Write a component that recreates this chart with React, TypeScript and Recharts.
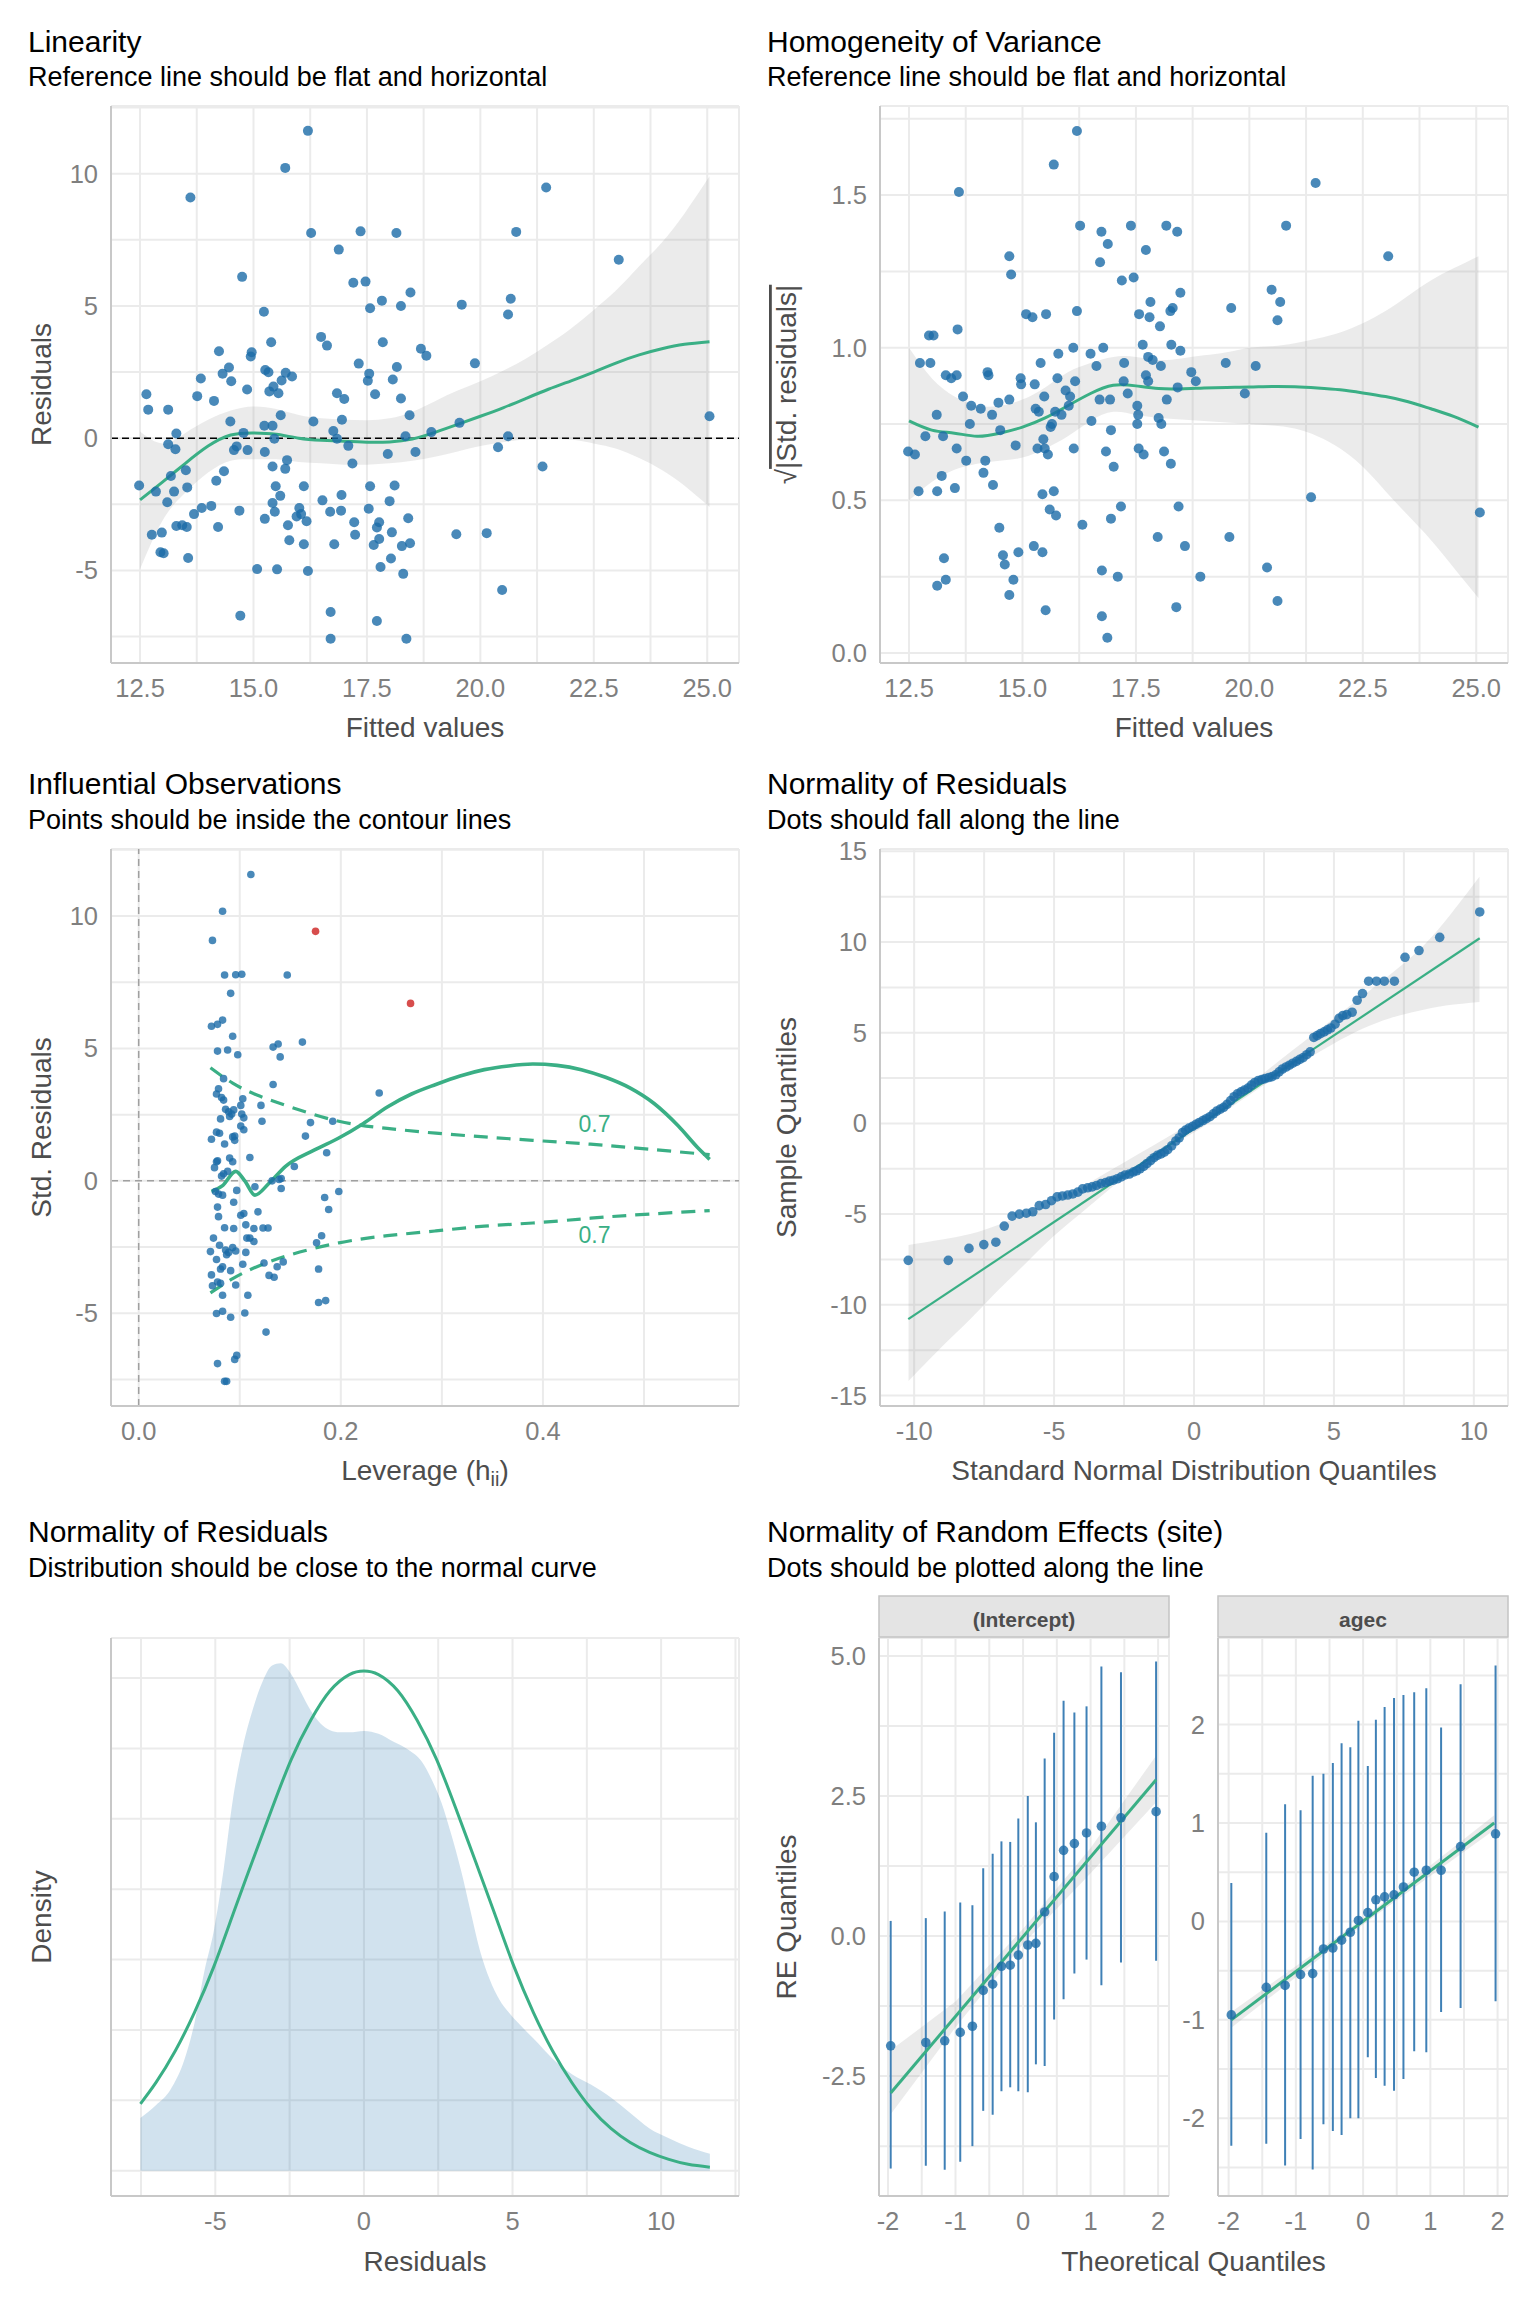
import React from 'react';
import {
  ComposedChart, Scatter, Line, Area, XAxis, YAxis, CartesianGrid, ReferenceLine, ErrorBar
} from 'recharts';

const BLUE = '#1b6ca8';
const GREEN = '#3aaf85';
const RED = '#cd201f';
const GRID = '#ebebeb';
const AXIS = '#c8c8c8';
const TICK = '#7f7f7f';
const AXIS_TITLE = '#4d4d4d';
const FONT = '"Liberation Sans", Arial, sans-serif';

// ---- Linearity: fitted values vs residuals
const linearityPoints = [
  [12.48, -1.79], [12.64, 1.66], [12.68, 1.08], [12.76, -3.65], [12.85, -2.02], [12.95, -4.31], [13.02, -4.35],
  [12.98, -3.57], [13.12, 1.08], [13.12, -0.23], [13.18, -1.43], [13.10, -2.42], [13.25, -2.02], [13.28, -0.42],
  [13.30, 0.18], [13.30, -3.32], [13.43, -3.29], [13.51, -1.21], [13.53, -3.36], [13.54, -1.86], [13.56, -4.53],
  [13.61, 9.10], [13.69, -2.87], [13.76, 1.59], [13.84, 2.26], [13.86, -2.64], [14.07, -2.56], [14.13, 1.41],
  [14.18, -1.61], [14.22, -3.36], [14.24, 3.29], [14.32, 2.44], [14.35, -1.25], [14.46, 2.67], [14.49, 0.63],
  [14.51, 2.15], [14.57, -0.45], [14.63, -0.31], [14.69, -2.74], [14.71, -6.71], [14.75, 6.10], [14.78, 0.20],
  [14.87, -0.45], [14.86, 1.84], [14.94, 3.09], [14.96, 3.25], [15.08, -4.95], [15.23, 4.78], [15.24, 0.47],
  [15.25, -0.52], [15.25, -3.05], [15.26, 2.58], [15.33, 2.49], [15.35, 1.77], [15.39, 3.63], [15.42, 0.47],
  [15.42, -2.45], [15.42, -1.07], [15.44, 1.95], [15.46, -0.02], [15.47, -2.78], [15.49, -1.82], [15.52, -4.96],
  [15.55, 1.70], [15.59, -2.18], [15.60, 0.87], [15.62, 2.18], [15.71, 2.47], [15.70, 10.22], [15.70, -1.16],
  [15.74, -0.83], [15.76, -3.29], [15.79, -3.86], [15.85, 2.33], [15.95, -2.96], [16.01, -2.64], [16.05, -2.87],
  [16.11, -1.82], [16.11, -4.01], [16.17, -3.14], [16.20, 11.62], [16.20, -5.02], [16.27, 7.76], [16.32, 0.63],
  [16.49, 3.83], [16.52, -2.35], [16.62, 3.50], [16.70, -6.57], [16.70, -7.58], [16.69, -2.78], [16.76, 0.27],
  [16.78, -4.01], [16.84, 1.70], [16.84, -0.02], [16.88, 7.13], [16.93, -2.74], [16.94, -2.15], [16.95, 0.70],
  [17.00, 1.48], [17.09, -0.29], [17.18, -0.96], [17.20, 5.88], [17.22, -3.18], [17.24, -3.65], [17.32, 2.82],
  [17.36, 7.82], [17.47, 5.92], [17.52, 2.17], [17.54, -2.67], [17.55, 2.44], [17.57, 4.91], [17.57, -1.82],
  [17.65, -4.04], [17.68, 1.66], [17.72, -6.91], [17.72, -3.38], [17.77, -3.18], [17.77, -3.81], [17.80, -4.87],
  [17.83, 5.20], [17.85, 3.63], [17.96, -0.60], [18.00, -2.38], [18.03, -4.55], [18.05, -3.56], [18.07, 2.22],
  [18.11, -1.79], [18.15, 7.76], [18.16, 2.69], [18.25, 5.00], [18.25, 1.50], [18.27, -4.08], [18.30, -5.13],
  [18.35, 0.07], [18.37, -7.58], [18.41, -3.03], [18.44, 0.87], [18.45, -3.97], [18.46, 5.51], [18.57, -0.52],
  [18.69, 3.38], [18.81, 3.12], [18.92, 0.23], [19.47, -3.63], [19.54, 0.58], [19.59, 5.05], [19.88, 2.83],
  [20.14, -3.59], [20.39, -0.34], [20.48, -5.74], [20.61, 4.68], [20.61, 0.07], [20.67, 5.27], [20.79, 7.80],
  [21.37, -1.07], [21.45, 9.48], [23.05, 6.75], [25.05, 0.83],
];
const linSmoothX = [12.5, 13, 13.5, 14, 14.5, 15, 15.5, 16, 16.5, 17, 17.5, 18, 18.5, 19, 19.5, 20, 20.5, 21, 21.5, 22, 22.5, 23, 23.5, 24, 24.5, 25.05];
const linSmoothFit = [-2.33, -1.65, -0.95, -0.3, 0.12, 0.2, 0.15, 0.0, -0.08, -0.12, -0.15, -0.14, -0.03, 0.22, 0.52, 0.83, 1.15, 1.5, 1.85, 2.17, 2.5, 2.85, 3.15, 3.38, 3.55, 3.65];
const linSmoothLo = [-4.95, -3.1, -2.05, -1.3, -0.85, -0.8, -0.8, -0.9, -0.95, -1.0, -1.0, -0.95, -0.85, -0.7, -0.5, -0.3, -0.15, -0.05, -0.02, -0.05, -0.2, -0.4, -0.75, -1.2, -1.8, -2.6];
const linSmoothHi = [0.25, -0.2, 0.2, 0.7, 1.05, 1.2, 1.1, 0.88, 0.75, 0.7, 0.68, 0.75, 1.0, 1.4, 1.8, 2.15, 2.55, 3.0, 3.55, 4.15, 4.85, 5.6, 6.5, 7.4, 8.5, 9.9];

// ---- Homogeneity of variance: fitted values vs sqrt(|std. residuals|)
const homogeneityPoints = [
  [12.48, 0.66], [12.63, 0.65], [12.71, 0.53], [12.74, 0.95], [12.86, 0.71], [12.94, 1.04], [12.97, 0.95],
  [13.04, 1.04], [13.11, 0.78], [13.12, 0.53], [13.12, 0.22], [13.22, 0.58], [13.25, 0.71], [13.27, 0.31],
  [13.31, 0.24], [13.31, 0.91], [13.43, 0.90], [13.51, 0.54], [13.55, 0.67], [13.55, 0.91], [13.57, 1.06],
  [13.60, 1.51], [13.69, 0.84], [13.76, 0.63], [13.84, 0.75], [13.87, 0.81], [14.08, 0.80], [14.14, 0.59],
  [14.18, 0.63], [14.23, 0.92], [14.25, 0.91], [14.33, 0.78], [14.35, 0.55], [14.47, 0.82], [14.49, 0.41],
  [14.51, 0.73], [14.57, 0.32], [14.61, 0.29], [14.71, 0.83], [14.71, 1.30], [14.71, 0.19], [14.75, 1.24],
  [14.80, 0.24], [14.85, 0.68], [14.91, 0.33], [14.96, 0.90], [14.97, 0.88], [15.08, 1.11], [15.22, 1.10],
  [15.25, 0.35], [15.27, 0.88], [15.29, 0.80], [15.33, 0.67], [15.36, 0.79], [15.40, 0.95], [15.44, 0.52],
  [15.44, 0.33], [15.46, 0.70], [15.48, 0.84], [15.49, 0.67], [15.51, 0.14], [15.52, 1.11], [15.56, 0.65],
  [15.60, 0.47], [15.62, 0.74], [15.65, 0.75], [15.69, 0.53], [15.69, 1.60], [15.72, 0.79], [15.74, 0.45],
  [15.77, 0.90], [15.79, 0.98], [15.86, 0.78], [15.95, 0.86], [16.02, 0.81], [16.05, 0.84], [16.12, 1.00],
  [16.13, 0.67], [16.16, 0.89], [16.20, 1.12], [16.20, 1.71], [16.27, 1.40], [16.32, 0.42], [16.50, 0.98],
  [16.52, 0.76], [16.63, 0.94], [16.70, 0.83], [16.71, 1.28], [16.74, 1.38], [16.75, 0.27], [16.75, 0.12],
  [16.78, 1.00], [16.84, 0.66], [16.88, 1.34], [16.87, 0.05], [16.93, 0.83], [16.95, 0.73], [16.95, 0.44],
  [17.01, 0.61], [17.10, 0.25], [17.17, 0.48], [17.19, 1.22], [17.23, 0.89], [17.24, 0.95], [17.32, 0.85],
  [17.39, 1.40], [17.45, 1.23], [17.53, 0.75], [17.53, 0.81], [17.55, 0.78], [17.56, 0.67], [17.57, 1.11],
  [17.65, 1.01], [17.67, 0.65], [17.72, 1.32], [17.72, 0.91], [17.77, 0.89], [17.77, 0.97], [17.80, 1.10],
  [17.82, 1.15], [17.87, 0.96], [17.98, 0.38], [18.00, 0.77], [18.03, 1.07], [18.05, 0.94], [18.06, 0.75],
  [18.12, 0.66], [18.17, 1.40], [18.18, 0.83], [18.26, 1.12], [18.27, 0.62], [18.28, 1.01], [18.31, 1.13],
  [18.39, 0.15], [18.41, 1.38], [18.42, 0.87], [18.44, 0.48], [18.48, 0.99], [18.48, 1.18], [18.58, 0.35],
  [18.72, 0.92], [18.82, 0.89], [18.92, 0.25], [19.48, 0.95], [19.56, 0.38], [19.60, 1.13], [19.90, 0.85],
  [20.14, 0.94], [20.39, 0.28], [20.49, 1.19], [20.62, 1.09], [20.62, 0.17], [20.68, 1.15], [20.81, 1.40],
  [21.36, 0.51], [21.46, 1.54], [23.06, 1.30], [25.08, 0.46],
];
const homSmoothX = [12.5, 13, 13.5, 14, 14.5, 15, 15.5, 16, 16.5, 17, 17.5, 18, 18.5, 19, 19.5, 20, 20.5, 21, 21.5, 22, 22.5, 23, 23.5, 24, 24.5, 25.05];
const homSmoothFit = [0.76, 0.73, 0.72, 0.71, 0.72, 0.74, 0.77, 0.81, 0.85, 0.877, 0.875, 0.866, 0.865, 0.868, 0.87, 0.871, 0.873, 0.872, 0.868, 0.862, 0.852, 0.84, 0.823, 0.80, 0.775, 0.74];
const homSmoothLo = [0.50, 0.56, 0.60, 0.62, 0.63, 0.64, 0.67, 0.71, 0.76, 0.79, 0.78, 0.77, 0.765, 0.76, 0.755, 0.75, 0.745, 0.735, 0.71, 0.67, 0.61, 0.53, 0.45, 0.37, 0.28, 0.18];
const homSmoothHi = [1.00, 0.90, 0.84, 0.81, 0.81, 0.83, 0.87, 0.92, 0.95, 0.97, 0.97, 0.96, 0.965, 0.975, 0.985, 1.0, 1.005, 1.015, 1.03, 1.05, 1.08, 1.12, 1.17, 1.22, 1.26, 1.30];

// ---- Influential observations: leverage vs std. residuals
const influencePoints = [
  [0.111, 11.57], [0.083, 10.18], [0.073, 9.08], [0.085, 7.77], [0.096, 7.78], [0.102, 7.80], [0.147, 7.77],
  [0.091, 7.08], [0.072, 5.84], [0.078, 5.91], [0.083, 6.07], [0.093, 5.46], [0.162, 5.24], [0.133, 5.05],
  [0.138, 5.17], [0.078, 4.90], [0.088, 4.94], [0.098, 4.76], [0.140, 4.68], [0.084, 3.86], [0.133, 3.64],
  [0.238, 3.32], [0.079, 3.48], [0.077, 3.28], [0.082, 3.15], [0.084, 3.05], [0.103, 3.10], [0.121, 2.85],
  [0.101, 2.85], [0.086, 2.70], [0.089, 2.61], [0.092, 2.52], [0.090, 2.43], [0.094, 2.68], [0.102, 2.52],
  [0.122, 2.25], [0.170, 2.20], [0.192, 2.25], [0.104, 2.38], [0.081, 2.34], [0.080, 1.80], [0.077, 1.84],
  [0.165, 1.69], [0.072, 1.57], [0.093, 1.66], [0.095, 1.53], [0.095, 1.69], [0.104, 1.93], [0.101, 2.07],
  [0.085, 1.39], [0.110, 0.88], [0.186, 1.06], [0.090, 0.86], [0.093, 0.72], [0.078, 0.76], [0.075, 0.50],
  [0.077, 0.72], [0.154, 0.54], [0.084, 0.27], [0.082, 0.18], [0.088, 0.36], [0.141, 0.09], [0.132, 0.00],
  [0.139, 0.05], [0.115, -0.22], [0.076, -0.40], [0.079, -0.50], [0.083, -0.54], [0.097, -0.36], [0.141, -0.29],
  [0.184, -0.63], [0.198, -0.40], [0.188, -1.08], [0.078, -0.99], [0.079, -1.35], [0.094, -0.81], [0.104, -1.23],
  [0.101, -1.30], [0.118, -1.17], [0.106, -1.66], [0.085, -1.77], [0.094, -1.80], [0.114, -1.80], [0.128, -1.78],
  [0.123, -1.78], [0.107, -2.16], [0.110, -2.16], [0.114, -2.29], [0.181, -2.07], [0.074, -2.16], [0.176, -2.34],
  [0.080, -2.43], [0.086, -2.61], [0.087, -2.79], [0.093, -2.52], [0.096, -2.65], [0.089, -2.70], [0.071, -2.67],
  [0.106, -2.70], [0.124, -3.10], [0.137, -3.24], [0.143, -3.06], [0.103, -3.15], [0.081, -3.33], [0.083, -3.24],
  [0.077, -2.97], [0.178, -3.33], [0.072, -3.55], [0.091, -3.39], [0.129, -3.57], [0.134, -3.64], [0.096, -3.93],
  [0.078, -3.82], [0.081, -3.87], [0.073, -3.96], [0.083, -4.32], [0.108, -4.32], [0.178, -4.59], [0.185, -4.52],
  [0.077, -5.01], [0.083, -4.92], [0.091, -5.15], [0.105, -4.99], [0.126, -5.71], [0.078, -6.90], [0.097, -6.59],
  [0.095, -6.74], [0.085, -7.57], [0.087, -7.57],
];
const influentialOutliers = [[0.175, 9.42], [0.269, 6.70]];
const infSmoothX = [0.072, 0.083, 0.096, 0.105, 0.115, 0.129, 0.145, 0.174, 0.198, 0.222, 0.246, 0.270, 0.294, 0.318, 0.342, 0.366, 0.390, 0.414, 0.438, 0.462, 0.486, 0.510, 0.534, 0.553, 0.565];
const infSmoothY = [-0.40, -0.18, 0.36, 0.0, -0.54, -0.09, 0.54, 1.17, 1.62, 2.16, 2.79, 3.28, 3.64, 3.96, 4.20, 4.34, 4.41, 4.36, 4.20, 3.91, 3.51, 2.92, 2.07, 1.26, 0.81];
const cookX = [0.071, 0.093, 0.117, 0.150, 0.198, 0.246, 0.294, 0.342, 0.390, 0.438, 0.486, 0.565];
const cookUpper = [4.27, 3.69, 3.24, 2.79, 2.25, 1.98, 1.80, 1.66, 1.53, 1.41, 1.26, 0.99];
const cookLower = [-4.23, -3.69, -3.24, -2.79, -2.34, -2.07, -1.89, -1.71, -1.59, -1.44, -1.30, -1.12];
const cookLabels = [{ x: 0.451, y: 2.16, label: '0.7' }, { x: 0.451, y: -2.04, label: '0.7' }];

// ---- Normality of residuals: QQ plot
const qqPoints = [
  [-10.21, -7.55], [-8.78, -7.55], [-8.04, -6.89], [-7.51, -6.68], [-7.08, -6.55], [-6.78, -5.66], [-6.50, -5.11],
  [-6.24, -5.0], [-5.99, -4.95], [-5.76, -4.87], [-5.53, -4.53], [-5.30, -4.47], [-5.09, -4.26], [-4.89, -4.05],
  [-4.70, -4.0], [-4.51, -3.95], [-4.33, -3.89], [-4.15, -3.79], [-3.98, -3.61], [-3.80, -3.55], [-3.64, -3.50],
  [-3.48, -3.42], [-3.32, -3.32], [-3.16, -3.26], [-3.02, -3.18], [-2.88, -3.13], [-2.74, -3.05], [-2.60, -2.95],
  [-2.46, -2.84], [-2.31, -2.79], [-2.17, -2.68], [-2.05, -2.61], [-1.93, -2.50], [-1.80, -2.37], [-1.68, -2.21],
  [-1.55, -2.05], [-1.43, -1.89], [-1.31, -1.76], [-1.18, -1.68], [-1.06, -1.58], [-0.94, -1.45], [-0.80, -1.24],
  [-0.65, -0.97], [-0.53, -0.79], [-0.41, -0.50], [-0.30, -0.37], [-0.18, -0.26], [-0.05, -0.16], [0.07, -0.05],
  [0.19, 0.05], [0.32, 0.16], [0.44, 0.26], [0.57, 0.37], [0.69, 0.53], [0.81, 0.68], [0.94, 0.79], [1.06, 0.89],
  [1.18, 1.05], [1.31, 1.26], [1.43, 1.47], [1.55, 1.63], [1.68, 1.74], [1.80, 1.84], [1.93, 1.95], [2.05, 2.11],
  [2.17, 2.26], [2.30, 2.37], [2.42, 2.42], [2.54, 2.47], [2.67, 2.53], [2.79, 2.58], [2.92, 2.68], [3.04, 2.84],
  [3.16, 3.0], [3.29, 3.11], [3.41, 3.21], [3.53, 3.32], [3.66, 3.42], [3.78, 3.53], [3.90, 3.63], [4.03, 3.79],
  [4.15, 3.95], [4.28, 4.74], [4.40, 4.84], [4.52, 4.95], [4.65, 5.05], [4.77, 5.16], [4.89, 5.26], [5.04, 5.47],
  [5.18, 5.79], [5.32, 5.95], [5.46, 6.0], [5.65, 6.13], [5.83, 6.79], [6.02, 7.16], [6.24, 7.84], [6.52, 7.84],
  [6.80, 7.84], [7.16, 7.84], [7.54, 9.16], [8.04, 9.53], [8.78, 10.26], [10.21, 11.66],
];
const qqLineX = [-10.21, 10.21];
const qqLineY = [-10.79, 10.21];
const qqBandX = [-10.2, -9, -8, -7, -6, -5, -4, -3, -2, -1, 0, 1, 2, 3, 4, 5, 6, 7, 8, 9, 10.2];
const qqBandLo = [-14.2, -12.3, -10.8, -9.2, -7.7, -6.2, -4.9, -3.6, -2.4, -1.35, -0.5, 0.55, 1.6, 2.6, 3.5, 4.4, 5.2, 5.8, 6.2, 6.5, 6.7];
const qqBandHi = [-6.7, -6.4, -6.1, -5.6, -5.0, -4.3, -3.5, -2.6, -1.7, -0.8, 0.1, 1.1, 2.2, 3.4, 4.6, 5.8, 7.0, 8.2, 9.5, 11.2, 13.6];

// ---- Normality of residuals: density (relative units, no axis labels)
const densityX = [-7.52, -7.0, -6.51, -6.03, -5.70, -5.37, -5.05, -4.72, -4.40, -4.07, -3.75, -3.42, -3.09, -2.80, -2.44, -2.12, -1.79, -1.47, -1.14, -0.81, -0.49, 0, 0.49, 0.98, 1.47, 1.95, 2.28, 2.61, 2.93, 3.26, 3.58, 3.91, 4.23, 4.56, 4.89, 5.37, 5.86, 6.35, 7.0, 7.65, 8.31, 8.96, 9.61, 10.26, 10.91, 11.64];
const densityY = [0.75, 0.93, 1.15, 1.59, 2.10, 2.83, 3.41, 4.28, 5.30, 6.03, 6.54, 6.94, 7.18, 7.21, 7.05, 6.80, 6.54, 6.36, 6.26, 6.23, 6.23, 6.25, 6.21, 6.10, 5.99, 5.81, 5.56, 5.23, 4.79, 4.28, 3.70, 3.12, 2.72, 2.43, 2.24, 2.02, 1.81, 1.59, 1.37, 1.22, 1.04, 0.82, 0.60, 0.46, 0.34, 0.24];
const normalX = [-7.52, -7.0, -6.35, -5.70, -5.05, -4.40, -3.75, -3.09, -2.44, -1.79, -1.14, -0.49, 0, 0.49, 1.14, 1.79, 2.44, 3.09, 3.75, 4.40, 5.05, 5.70, 6.35, 7.0, 7.65, 8.31, 8.96, 9.61, 10.26, 10.91, 11.64];
const normalY = [0.95, 1.25, 1.70, 2.25, 2.90, 3.65, 4.40, 5.15, 5.85, 6.40, 6.82, 7.05, 7.10, 7.05, 6.82, 6.40, 5.85, 5.15, 4.40, 3.65, 2.90, 2.25, 1.70, 1.25, 0.88, 0.60, 0.40, 0.26, 0.16, 0.09, 0.05];

// ---- Random effects (site)
const reTheo = [-1.96, -1.44, -1.16, -0.93, -0.75, -0.59, -0.45, -0.32, -0.19, -0.07, 0.07, 0.19, 0.32, 0.46, 0.60, 0.76, 0.94, 1.16, 1.45, 1.97];
const reInterceptY = [-1.96, -1.90, -1.87, -1.72, -1.61, -0.97, -0.86, -0.54, -0.52, -0.34, -0.16, -0.13, 0.43, 1.06, 1.53, 1.65, 1.84, 1.96, 2.11, 2.22];
const reInterceptLo = [-4.15, -4.10, -4.17, -4.03, -3.75, -3.12, -3.19, -2.77, -2.70, -2.77, -2.79, -2.29, -2.32, -1.49, -1.13, -0.67, -0.42, -0.88, -0.47, -0.44];
const reInterceptHi = [0.27, 0.32, 0.44, 0.60, 0.55, 1.21, 1.47, 1.69, 1.68, 2.10, 2.50, 2.03, 3.17, 3.63, 4.20, 3.99, 4.10, 4.81, 4.71, 4.90];
const reAgecY = [-0.95, -0.67, -0.65, -0.54, -0.53, -0.28, -0.27, -0.19, -0.11, 0.01, 0.09, 0.22, 0.25, 0.27, 0.35, 0.50, 0.52, 0.52, 0.76, 0.89];
const reAgecLo = [-2.28, -2.26, -2.48, -2.21, -2.52, -2.06, -2.13, -2.17, -2.00, -2.00, -1.38, -1.59, -1.67, -1.72, -1.60, -1.32, -1.33, -0.92, -0.88, -0.81];
const reAgecHi = [0.39, 0.90, 1.19, 1.13, 1.48, 1.50, 1.61, 1.81, 1.77, 2.04, 1.58, 2.05, 2.18, 2.27, 2.30, 2.33, 2.37, 1.97, 2.41, 2.60];
const reInterceptLineX = [-1.96, 1.97];
const reInterceptLineY = [-2.80, 2.79];
const reInterceptBandX = [-1.96, -1, 0, 1, 1.97];
const reInterceptBandLo = [-3.18, -1.63, -0.14, 1.12, 2.39];
const reInterceptBandHi = [-2.04, -1.17, 0.13, 1.57, 3.22];
const reAgecLineX = [-1.96, 1.95];
const reAgecLineY = [-1.0, 1.0];
const reAgecBandX = [-1.96, 0, 1.95];
const reAgecBandLo = [-1.08, -0.03, 0.93];
const reAgecBandHi = [-0.92, 0.03, 1.08];

// tick positions (grid lines); labels only on the major ones
const fitTicks = [12.5, 13.75, 15, 16.25, 17.5, 18.75, 20, 21.25, 22.5, 23.75, 25];
const residTicks = [-7.5, -5, -2.5, 0, 2.5, 5, 7.5, 10, 12.5];
const sqrtTicks = [0, 0.25, 0.5, 0.75, 1, 1.25, 1.5, 1.75];
const levTicks = [0, 0.1, 0.2, 0.3, 0.4, 0.5];
const qqTicks = [-10, -7.5, -5, -2.5, 0, 2.5, 5, 7.5, 10];
const qqYTicks = [-15, -12.5, -10, -7.5, -5, -2.5, 0, 2.5, 5, 7.5, 10, 12.5, 15];
const densXTicks = [-7.5, -5, -2.5, 0, 2.5, 5, 7.5, 10, 12.5];
const densYTicks = [0, 1, 2, 3, 4, 5, 6, 7];
const reXTicks = [-2, -1.5, -1, -0.5, 0, 0.5, 1, 1.5, 2];
const reIntYTicks = [-3.75, -2.5, -1.25, 0, 1.25, 2.5, 3.75, 5];
const reAgecYTicks = [-2.5, -2, -1.5, -1, -0.5, 0, 0.5, 1, 1.5, 2, 2.5];

const pts = (pairs: number[][]) => pairs.map(([x, y]) => ({ x, y }));
const curve = (xs: number[], ys: number[]) => xs.map((x, i) => ({ x, y: ys[i] }));
const ribbon = (xs: number[], lo: number[], hi: number[]) => xs.map((x, i) => ({ x, band: [lo[i], hi[i]] }));
const withErr = (xs: number[], ys: number[], lo: number[], hi: number[]) =>
  xs.map((x, i) => ({ x, y: ys[i], err: [ys[i] - lo[i], hi[i] - ys[i]] }));

const every = (step: number, digits: number) => (v: number) =>
  Math.abs(v / step - Math.round(v / step)) < 1e-6 ? v.toFixed(digits) : '';
const blank = () => '';

const dot = (r: number, fill: string, opacity = 0.8) => (p: any) =>
  <circle cx={p.cx} cy={p.cy} r={r} fill={fill} fillOpacity={opacity} />;

const YW = 90;
const MT = 12;
const MR = 12;
const XH = 50;

type Box = { left: number; top: number; width: number; height: number };

interface PlotProps {
  box: Box;
  xDomain: number[];
  yDomain: number[];
  xTicks: number[];
  yTicks: number[];
  xFmt: (v: number) => string;
  yFmt: (v: number) => string;
  children: React.ReactNode;
}

const Plot: React.FC<PlotProps> = ({ box, xDomain, yDomain, xTicks, yTicks, xFmt, yFmt, children }) => {
  const width = YW + box.width + MR;
  const height = MT + box.height + XH;
  return (
    <div style={{ position: 'absolute', left: box.left - YW, top: box.top - MT, width, height }}>
      <ComposedChart width={width} height={height} margin={{ top: MT, right: MR, bottom: 0, left: 0 }}>
        <CartesianGrid stroke={GRID} strokeWidth={2} />
        <XAxis
          type="number" dataKey="x" domain={xDomain} allowDataOverflow ticks={xTicks} interval={0}
          tickFormatter={xFmt} tickLine={false} tickSize={0} tickMargin={16} height={XH}
          axisLine={{ stroke: AXIS, strokeWidth: 2 }} tick={{ fill: TICK, fontSize: 25.5 }}
        />
        <YAxis
          type="number" domain={yDomain} allowDataOverflow ticks={yTicks} interval={0}
          tickFormatter={yFmt} tickLine={false} tickSize={0} tickMargin={13} width={YW}
          axisLine={{ stroke: AXIS, strokeWidth: 2 }} tick={{ fill: TICK, fontSize: 25.5 }}
        />
        {children}
      </ComposedChart>
    </div>
  );
};

const Title = ({ x, y, title, sub }: { x: number; y: number; title: string; sub: string }) => (
  <g>
    <text x={x} y={y} fontSize={30} fill="#000">{title}</text>
    <text x={x} y={y + 34.5} fontSize={27} fill="#000">{sub}</text>
  </g>
);

const XTitle = ({ x, y, children }: { x: number; y: number; children: React.ReactNode }) => (
  <text x={x} y={y} fontSize={28} fill={AXIS_TITLE} textAnchor="middle">{children}</text>
);

const YTitle = ({ x, y, children }: { x: number; y: number; children: React.ReactNode }) => (
  <text transform={`translate(${x},${y}) rotate(-90)`} fontSize={28} fill={AXIS_TITLE} textAnchor="middle">{children}</text>
);

const Strip = ({ x, w, label }: { x: number; w: number; label: string }) => (
  <g>
    <rect x={x} y={1596} width={w} height={41} fill="#e4e4e4" stroke="#c4c4c4" strokeWidth={1.5} />
    <text x={x + w / 2} y={1626.5} fontSize={21} fontWeight="bold" fill={AXIS_TITLE} textAnchor="middle">{label}</text>
  </g>
);

export default function App() {
  return (
    <div style={{ position: 'absolute', left: 0, top: 0, width: 1536, height: 2304, background: '#fff', fontFamily: FONT }}>
      {/* Linearity */}
      <Plot box={{ left: 111, top: 106, width: 628, height: 557 }} xDomain={[11.86, 25.7]} yDomain={[-8.5, 12.56]}
        xTicks={fitTicks} yTicks={residTicks} xFmt={every(2.5, 1)} yFmt={every(5, 0)}>
        <Scatter data={pts(linearityPoints)} dataKey="y" shape={dot(5, BLUE)} isAnimationActive={false} />
        <ReferenceLine y={0} stroke="#000" strokeWidth={1.6} strokeDasharray="7 4" />
        <Area data={ribbon(linSmoothX, linSmoothLo, linSmoothHi)} dataKey="band" type="natural" stroke="none"
          fill="#999999" fillOpacity={0.2} isAnimationActive={false} />
        <Line data={curve(linSmoothX, linSmoothFit)} dataKey="y" type="natural" stroke={GREEN} strokeWidth={3}
          dot={false} activeDot={false} isAnimationActive={false} />
      </Plot>

      {/* Homogeneity of variance */}
      <Plot box={{ left: 880, top: 106, width: 628, height: 557 }} xDomain={[11.86, 25.7]} yDomain={[-0.033, 1.792]}
        xTicks={fitTicks} yTicks={sqrtTicks} xFmt={every(2.5, 1)} yFmt={every(0.5, 1)}>
        <Scatter data={pts(homogeneityPoints)} dataKey="y" shape={dot(5, BLUE)} isAnimationActive={false} />
        <Area data={ribbon(homSmoothX, homSmoothLo, homSmoothHi)} dataKey="band" type="natural" stroke="none"
          fill="#999999" fillOpacity={0.2} isAnimationActive={false} />
        <Line data={curve(homSmoothX, homSmoothFit)} dataKey="y" type="natural" stroke={GREEN} strokeWidth={3}
          dot={false} activeDot={false} isAnimationActive={false} />
      </Plot>

      {/* Influential observations */}
      <Plot box={{ left: 111, top: 849, width: 628, height: 557 }} xDomain={[-0.0274, 0.594]} yDomain={[-8.5, 12.53]}
        xTicks={levTicks} yTicks={residTicks} xFmt={every(0.2, 1)} yFmt={every(5, 0)}>
        <ReferenceLine x={0} stroke="#a0a0a0" strokeWidth={1.5} strokeDasharray="7 5" />
        <ReferenceLine y={0} stroke="#a0a0a0" strokeWidth={1.5} strokeDasharray="7 5" />
        <Scatter data={pts(influencePoints)} dataKey="y" shape={dot(3.8, BLUE)} isAnimationActive={false} />
        <Scatter data={pts(influentialOutliers)} dataKey="y" shape={dot(3.8, RED)} isAnimationActive={false} />
        <Line data={curve(cookX, cookUpper)} dataKey="y" type="natural" stroke={GREEN} strokeWidth={3.2}
          strokeDasharray="14 9" dot={false} activeDot={false} isAnimationActive={false} />
        <Line data={curve(cookX, cookLower)} dataKey="y" type="natural" stroke={GREEN} strokeWidth={3.2}
          strokeDasharray="14 9" dot={false} activeDot={false} isAnimationActive={false} />
        <Line data={curve(infSmoothX, infSmoothY)} dataKey="y" type="monotone" stroke={GREEN} strokeWidth={3.6}
          dot={false} activeDot={false} isAnimationActive={false} />
        <Scatter data={cookLabels} dataKey="y" isAnimationActive={false}
          shape={(p: any) => (
            <text x={p.cx} y={p.cy} fontSize={23} fill={GREEN} textAnchor="middle" dominantBaseline="central">
              {p.payload.label}
            </text>
          )} />
      </Plot>

      {/* Normality of residuals: QQ */}
      <Plot box={{ left: 880, top: 849, width: 628, height: 557 }} xDomain={[-11.22, 11.22]} yDomain={[-15.58, 15.13]}
        xTicks={qqTicks} yTicks={qqYTicks} xFmt={every(5, 0)} yFmt={every(5, 0)}>
        <Area data={ribbon(qqBandX, qqBandLo, qqBandHi)} dataKey="band" type="natural" stroke="none"
          fill="#999999" fillOpacity={0.2} isAnimationActive={false} />
        <Line data={curve(qqLineX, qqLineY)} dataKey="y" type="linear" stroke={GREEN} strokeWidth={2.2}
          dot={false} activeDot={false} isAnimationActive={false} />
        <Scatter data={pts(qqPoints)} dataKey="y" shape={dot(4.8, BLUE)} isAnimationActive={false} />
      </Plot>

      {/* Normality of residuals: density */}
      <Plot box={{ left: 111, top: 1638, width: 628, height: 558 }} xDomain={[-8.51, 12.62]} yDomain={[-0.36, 7.57]}
        xTicks={densXTicks} yTicks={densYTicks} xFmt={every(5, 0)} yFmt={blank}>
        <Area data={curve(densityX, densityY)} dataKey="y" type="monotone" stroke="none" baseValue={0}
          fill={BLUE} fillOpacity={0.2} isAnimationActive={false} />
        <Line data={curve(normalX, normalY)} dataKey="y" type="natural" stroke={GREEN} strokeWidth={3}
          dot={false} activeDot={false} isAnimationActive={false} />
      </Plot>

      {/* Random effects: (Intercept) */}
      <Plot box={{ left: 879, top: 1638, width: 290, height: 558 }} xDomain={[-2.133, 2.161]} yDomain={[-4.64, 5.32]}
        xTicks={reXTicks} yTicks={reIntYTicks} xFmt={every(1, 0)} yFmt={every(2.5, 1)}>
        <Area data={ribbon(reInterceptBandX, reInterceptBandLo, reInterceptBandHi)} dataKey="band" type="linear"
          stroke="none" fill="#999999" fillOpacity={0.2} isAnimationActive={false} />
        <Scatter data={withErr(reTheo, reInterceptY, reInterceptLo, reInterceptHi)} dataKey="y"
          shape={dot(4.8, BLUE)} isAnimationActive={false}>
          <ErrorBar dataKey="err" direction="y" width={0} stroke="#3f80b6" strokeWidth={2} isAnimationActive={false} />
        </Scatter>
        <Line data={curve(reInterceptLineX, reInterceptLineY)} dataKey="y" type="linear" stroke={GREEN} strokeWidth={3}
          dot={false} activeDot={false} isAnimationActive={false} />
      </Plot>

      {/* Random effects: agec */}
      <Plot box={{ left: 1218, top: 1638, width: 290, height: 558 }} xDomain={[-2.158, 2.155]} yDomain={[-2.79, 2.88]}
        xTicks={reXTicks} yTicks={reAgecYTicks} xFmt={every(1, 0)} yFmt={every(1, 0)}>
        <Area data={ribbon(reAgecBandX, reAgecBandLo, reAgecBandHi)} dataKey="band" type="linear"
          stroke="none" fill="#999999" fillOpacity={0.2} isAnimationActive={false} />
        <Scatter data={withErr(reTheo, reAgecY, reAgecLo, reAgecHi)} dataKey="y"
          shape={dot(4.8, BLUE)} isAnimationActive={false}>
          <ErrorBar dataKey="err" direction="y" width={0} stroke="#3f80b6" strokeWidth={2} isAnimationActive={false} />
        </Scatter>
        <Line data={curve(reAgecLineX, reAgecLineY)} dataKey="y" type="linear" stroke={GREEN} strokeWidth={3}
          dot={false} activeDot={false} isAnimationActive={false} />
      </Plot>

      <svg width={1536} height={2304} style={{ position: 'absolute', left: 0, top: 0, pointerEvents: 'none' }}>
        <Title x={28} y={51.5} title="Linearity" sub="Reference line should be flat and horizontal" />
        <Title x={767} y={51.5} title="Homogeneity of Variance" sub="Reference line should be flat and horizontal" />
        <Title x={28} y={794} title="Influential Observations" sub="Points should be inside the contour lines" />
        <Title x={767} y={794} title="Normality of Residuals" sub="Dots should fall along the line" />
        <Title x={28} y={1542} title="Normality of Residuals" sub="Distribution should be close to the normal curve" />
        <Title x={767} y={1542} title="Normality of Random Effects (site)" sub="Dots should be plotted along the line" />

        <XTitle x={425} y={737}>Fitted values</XTitle>
        <XTitle x={1194} y={737}>Fitted values</XTitle>
        <XTitle x={425} y={1480}>
          Leverage (h<tspan fontSize={20} dy={6}>ii</tspan><tspan dy={-6}>)</tspan>
        </XTitle>
        <XTitle x={1194} y={1480}>Standard Normal Distribution Quantiles</XTitle>
        <XTitle x={425} y={2270.5}>Residuals</XTitle>
        <XTitle x={1193.5} y={2270.5}>Theoretical Quantiles</XTitle>

        <YTitle x={50.5} y={384.5}>Residuals</YTitle>
        <YTitle x={796} y={384.5}>
          √<tspan style={{ textDecoration: 'overline' }}>|Std. residuals|</tspan>
        </YTitle>
        <YTitle x={50.5} y={1127.5}>Std. Residuals</YTitle>
        <YTitle x={796} y={1127.5}>Sample Quantiles</YTitle>
        <YTitle x={50.5} y={1917}>Density</YTitle>
        <YTitle x={796} y={1917}>RE Quantiles</YTitle>

        <Strip x={879} w={290} label="(Intercept)" />
        <Strip x={1218} w={290} label="agec" />
      </svg>
    </div>
  );
}
